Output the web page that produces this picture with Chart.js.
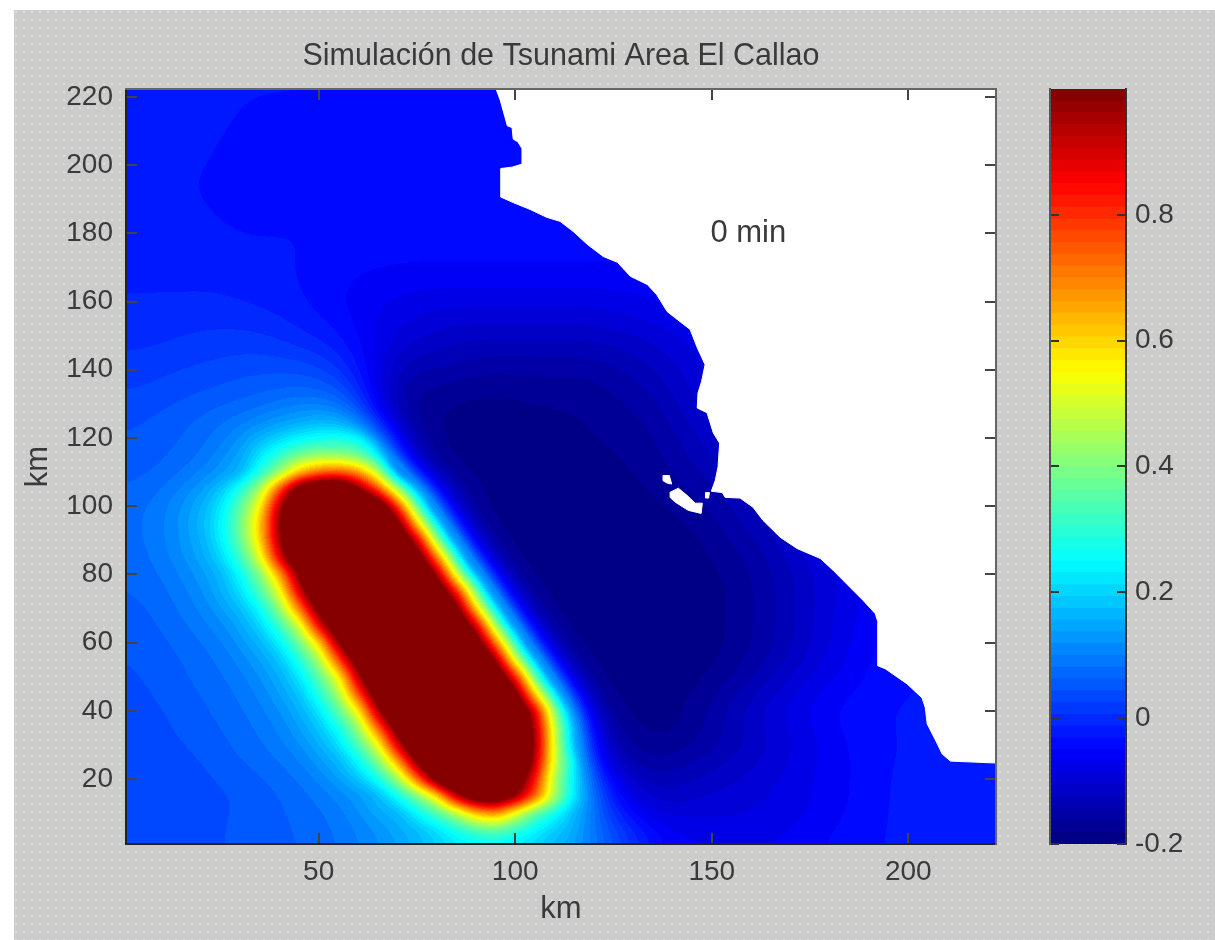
<!DOCTYPE html>
<html lang="es">
<head>
<meta charset="utf-8">
<title>Simulación de Tsunami Area El Callao</title>
<script src="https://cdn.jsdelivr.net/npm/chart.js@4"></script>
<style>
html,body{margin:0;padding:0;background:#fff;width:1215px;height:940px;overflow:hidden}
#bg{position:absolute;left:14px;top:10px;width:1201px;height:930px;background-color:#cccccc;
background-image:radial-gradient(circle at 2px 2px,#d8e2d4 0.7px,transparent 1px);background-size:8px 8px}
#mainWrap{position:absolute;left:0;top:0;width:1030px;height:940px}
#barWrap{position:absolute;left:1040px;top:0;width:175px;height:940px}
</style>
</head>
<body>
<div id="bg"></div>
<div id="mainWrap"><canvas id="main" width="1030" height="940"></canvas></div>
<div id="barWrap"><canvas id="bar" width="175" height="940"></canvas></div>
<script>
const titleText = 'Simulación de Tsunami Area El Callao';
const xAxisLabel = 'km';
const yAxisLabel = 'km';
const noteText = '0 min';
const notePos = [159.3, 180];
const xTickValues = [50, 100, 150, 200];
const yTickValues = [20, 40, 60, 80, 100, 120, 140, 160, 180, 200, 220];
const barTickValues = [-0.2, 0, 0.2, 0.4, 0.6, 0.8];
const axisRange = [1, 222.3];
const barRange = [-0.2, 1.0];

// sample positions of the height field (km)
const fieldX = [0,10,20,25,30,35,40,45,50,55,60,65,70,75,80,85,90,95,100,105,110,115,120,125,130,135,140,145,150,155,160,165,175,185,195,205,215,225];
const fieldY = [0,5,10,15,20,25,30,35,40,45,50,55,60,65,70,75,80,85,90,95,100,105,110,115,120,125,130,140,150,160,170,180,190,200,210,220,225];
// height in hundredths; one row per fieldY entry
const fieldRows = [
[3,3,4,4,5,5,6,6,7,8,9,11,13,16,19,21,22,22,21,19,16,13,9,5,1,-4,-6,-6,-6,-6,-6,-6,-5,-4,-3,-2,-2,-2],
[3,3,4,4,5,5,6,6,7,8,10,12,14,17,21,27,33,36,30,24,19,15,9,4,0,-4,-6,-7,-8,-8,-8,-8,-6,-4,-3,-2,-2,-2],
[3,3,4,4,5,5,6,7,8,9,12,14,16,24,33,45,62,68,52,35,26,16,7,-1,-6,-9,-10,-9,-9,-9,-9,-8,-7,-5,-3,-2,-2,-2],
[3,3,3,4,4,5,6,7,8,9,11,16,25,38,57,92,112,115,100,75,45,22,8,-4,-9,-12,-12,-11,-10,-10,-9,-9,-7,-5,-3,-2,-2,-2],
[3,3,4,5,5,6,7,8,10,13,18,26,42,72,106,130,130,130,113,84,45,23,3,-7,-12,-14,-14,-13,-12,-11,-10,-9,-7,-5,-3,-2,-2,-2],
[3,3,4,5,6,7,8,9,12,16,24,38,64,100,130,130,130,130,130,93,50,24,-6,-13,-16,-16,-15,-14,-13,-12,-11,-10,-7,-5,-3,-3,-2,-2],
[3,4,5,6,7,8,9,11,15,21,33,52,89,119,130,130,130,130,130,98,50,16,-8,-15,-17,-18,-18,-17,-15,-14,-12,-11,-8,-5,-3,-3,-2,-2],
[3,4,5,6,7,8,10,13,18,26,42,72,106,130,130,130,130,130,127,96,49,15,-10,-17,-18,-19,-19,-18,-16,-14,-12,-10,-7,-4,-3,-3,-2,-2],
[3,4,6,7,8,9,11,15,22,35,55,94,124,130,130,130,130,130,121,89,42,8,-14,-18,-19,-19,-19,-17,-15,-13,-11,-9,-6,-4,-3,-3,-2,-2],
[3,5,6,7,8,10,13,18,28,44,76,109,130,130,130,130,130,130,106,60,24,-8,-18,-19,-19,-19,-19,-19,-17,-15,-13,-11,-7,-5,-3,-3,-2,-2],
[4,5,7,8,9,11,15,22,35,54,93,123,130,130,130,130,130,117,83,37,3,-16,-18,-19,-19,-19,-19,-19,-18,-16,-15,-13,-9,-6,-4,-3,-3,-3],
[4,5,7,8,10,13,18,28,44,76,109,130,130,130,130,130,129,98,51,17,-11,-18,-19,-19,-19,-19,-19,-19,-19,-18,-16,-14,-10,-6,-4,-3,-3,-3],
[4,6,8,9,12,16,23,37,59,97,127,130,130,130,130,130,111,71,30,-4,-17,-19,-19,-19,-19,-19,-19,-19,-19,-18,-16,-15,-11,-7,-4,-3,-3,-3],
[5,6,9,10,14,20,31,49,86,116,130,130,130,130,130,122,91,44,10,-14,-18,-19,-19,-19,-19,-19,-19,-19,-19,-18,-17,-15,-11,-7,-5,-4,-3,-3],
[5,7,10,13,17,25,41,70,104,130,130,130,130,130,130,106,60,24,-8,-18,-19,-19,-19,-19,-19,-19,-19,-19,-19,-18,-16,-15,-11,-7,-5,-4,-3,-3],
[6,7,11,15,21,33,52,89,119,130,130,130,130,130,117,83,40,3,-16,-18,-19,-19,-19,-19,-19,-19,-19,-19,-19,-18,-17,-15,-11,-8,-5,-4,-3,-3],
[6,8,12,16,25,39,65,101,130,130,130,130,130,129,98,51,17,-11,-18,-19,-19,-19,-19,-19,-19,-19,-19,-19,-19,-18,-16,-15,-11,-8,-6,-4,-3,-3],
[6,9,14,20,31,51,88,118,130,130,130,130,130,111,71,30,-4,-17,-19,-19,-19,-19,-19,-19,-19,-19,-19,-19,-18,-17,-16,-14,-10,-7,-5,-4,-3,-3],
[7,9,15,23,36,59,96,127,130,130,130,130,122,91,44,10,-14,-18,-19,-19,-19,-19,-19,-19,-19,-19,-19,-19,-18,-16,-15,-13,-9,-6,-5,-4,-3,-3],
[7,9,16,24,37,61,98,128,130,130,130,130,106,60,24,-8,-18,-19,-19,-19,-19,-19,-19,-19,-19,-19,-19,-18,-17,-15,-14,-12,-8,-6,-5,-4,-3,-3],
[7,9,15,22,35,55,94,124,130,130,130,117,80,37,3,-16,-18,-19,-19,-19,-19,-19,-19,-19,-19,-19,-18,-17,-16,-14,-13,-11,-8,-6,-5,-4,-3,-3],
[6,8,13,18,28,44,76,109,122,125,102,78,46,16,-8,-16,-18,-19,-19,-19,-19,-19,-19,-19,-19,-18,-17,-16,-15,-13,-12,-11,-8,-6,-5,-4,-3,-3],
[5,6,9,11,16,28,42,62,72,75,68,48,12,-10,-17,-18,-19,-19,-19,-19,-19,-19,-19,-19,-18,-17,-16,-15,-14,-12,-11,-10,-8,-6,-5,-4,-3,-3],
[5,6,8,10,13,22,30,38,42,42,38,25,-4,-15,-18,-19,-19,-19,-19,-19,-19,-19,-19,-18,-18,-17,-16,-14,-12,-11,-10,-9,-7,-6,-5,-4,-3,-3],
[4,5,7,9,12,16,20,24,26,27,25,12,-8,-16,-18,-19,-19,-19,-19,-19,-19,-19,-18,-18,-17,-17,-15,-13,-11,-10,-9,-8,-7,-6,-5,-4,-3,-3],
[4,5,7,8,9,10,12,14,16,15,10,-3,-14,-17,-18,-19,-19,-19,-19,-19,-19,-18,-18,-17,-17,-16,-14,-12,-10,-9,-8,-7,-6,-5,-5,-4,-3,-3],
[3,4,5,6,6,7,8,9,9,8,4,-8,-16,-18,-18,-19,-19,-19,-19,-18,-18,-18,-18,-17,-16,-15,-13,-11,-9,-8,-7,-7,-6,-5,-5,-4,-3,-3],
[1,2,3,3,4,4,4,4,3,1,-3,-8,-13,-15,-14,-15,-16,-16,-16,-16,-16,-16,-16,-15,-14,-13,-11,-10,-8,-7,-6,-6,-5,-5,-4,-4,-3,-3],
[0,0,1,1,1,1,0,-1,-2,-3,-5,-7,-9,-10,-11,-12,-12,-12,-12,-12,-12,-12,-12,-11,-11,-10,-9,-8,-7,-6,-6,-5,-5,-4,-4,-3,-3,-3],
[-1,-1,-1,-1,-1,-2,-2,-3,-4,-5,-6,-7,-7,-8,-8,-8,-8,-8,-8,-8,-8,-8,-8,-8,-7,-7,-6,-6,-6,-5,-5,-5,-5,-4,-4,-3,-3,-3],
[-2,-2,-2,-2,-3,-3,-3,-3,-4,-4,-5,-5,-5,-5,-5,-5,-5,-5,-5,-5,-5,-5,-5,-5,-5,-5,-5,-5,-5,-5,-5,-5,-5,-4,-4,-3,-3,-3],
[-2,-2,-2,-3,-3,-3,-3,-3,-3,-3,-3,-3,-4,-4,-4,-4,-4,-4,-4,-4,-4,-4,-4,-4,-4,-4,-4,-4,-4,-4,-4,-4,-4,-4,-4,-3,-3,-3],
[-3,-3,-3,-4,-4,-4,-4,-4,-4,-4,-5,-5,-5,-5,-5,-5,-5,-5,-5,-5,-5,-5,-5,-5,-5,-5,-5,-5,-5,-5,-5,-5,-3,-3,-3,-3,-3,-3],
[-3,-3,-3,-3,-4,-4,-4,-4,-4,-4,-4,-4,-5,-5,-5,-5,-5,-5,-5,-5,-5,-5,-5,-5,-5,-5,-5,-5,-5,-5,-5,-5,-3,-3,-3,-3,-3,-3],
[-3,-3,-3,-3,-3,-4,-4,-4,-4,-4,-4,-4,-4,-4,-4,-4,-4,-4,-4,-4,-4,-4,-4,-4,-4,-4,-4,-4,-4,-4,-4,-4,-3,-3,-3,-3,-3,-3],
[-3,-3,-3,-3,-3,-3,-3,-3,-3,-4,-4,-4,-4,-4,-4,-4,-4,-4,-4,-4,-4,-4,-4,-4,-4,-4,-4,-4,-4,-4,-4,-4,-3,-3,-3,-3,-3,-3],
[-3,-3,-3,-3,-3,-3,-3,-3,-3,-4,-4,-4,-4,-4,-4,-4,-4,-4,-4,-4,-4,-4,-4,-4,-4,-4,-4,-4,-4,-4,-4,-4,-3,-3,-3,-3,-3,-3]
];

// coastline, [x km, y km], top to bottom
const coastline = [[94.9,223],[96.2,219],[97.4,214],[98,211.5],[99.2,211],[99.5,207.6],[100.7,206.8],[101.8,204.7],[101.8,200.3],[99.2,199.4],[96.4,199],[96.4,190.6],[99.5,189],[103.8,187],[108,184.7],[111.4,183.5],[114.7,180.6],[118.3,176.8],[122.4,173.2],[126,171.5],[129.3,167.4],[133.6,165],[136,162],[138.7,157],[144.5,151.8],[146.3,146.5],[148.3,141.5],[147.4,136.5],[146.5,133.2],[146.3,128.8],[148.8,127.4],[150.4,121.5],[152,118.5],[151.6,111.5],[150.9,107.6],[149.9,104.4],[152.7,104],[153.4,102.6],[157.2,102.4],[160.5,99.7],[163,95.9],[167.4,90.9],[171.7,87.6],[177.6,84.7],[180.9,81.2],[185.2,76.2],[188.5,72.4],[191.6,68.5],[192.3,65.9],[192.3,53.2],[194.1,52.4],[199.7,47.9],[203.5,43.8],[204.3,41],[204.8,36.2],[207.4,30.3],[208.6,27.4],[210.7,25.3],[223,24.7],[223,223],[94.9,223]];
const islandSanLorenzo = [[139.4,104.1],[141.5,105.3],[143.7,103.2],[145.8,100.9],[147.6,100.9],[147.3,97.9],[144,98.8],[140.7,101.2],[139.4,102.6],[139.4,104.1]];
const islandNorth = [[137.6,109],[139.2,109],[139.8,106.5],[138.6,106.8],[137.6,107.5],[137.6,109]];
const islandRock = [[148.4,104],[149.4,104],[149.2,102.4],[148.5,102.4],[148.4,104]];

// jet colormap, 64 levels, as in the colour bar
const LEVELS = 64;
const clamp01 = v => Math.max(0, Math.min(1, v));
const jetLevels = Array.from({length: LEVELS}, (_, i) => {
  const t = (i + 0.5) / LEVELS;
  return [clamp01(1.5 - Math.abs(4*t - 3)), clamp01(1.5 - Math.abs(4*t - 2)), clamp01(1.5 - Math.abs(4*t - 1))].map(c => Math.round(c * 255));
});
const levelOf = v => Math.max(0, Math.min(LEVELS - 1, Math.floor((v - barRange[0]) / (barRange[1] - barRange[0]) * LEVELS)));
const findCell = (arr, v) => { let i = 0; while (i < arr.length - 2 && arr[i + 1] <= v) i++; return i; };

const fontFamily = '"Liberation Sans", Arial, sans-serif';
const textColor = '#3a3a3a';

// box smoothing of the shaded field, in pixels
function smooth(src, w, h, rx, ry) {
  let a = src, b = new Float32Array(src.length);
  for (let pass = 0; pass < 3; pass++) {
    for (let y = 0; y < h; y++) {
      let s = 0;
      for (let x = -rx; x <= rx; x++) s += a[y*w + Math.max(0, Math.min(w-1, x))];
      for (let x = 0; x < w; x++) {
        b[y*w + x] = s / (2*rx + 1);
        s += a[y*w + Math.min(w-1, x+rx+1)] - a[y*w + Math.max(0, x-rx)];
      }
    }
    a = b; b = new Float32Array(src.length);
    for (let x = 0; x < w; x++) {
      let s = 0;
      for (let y = -ry; y <= ry; y++) s += a[Math.max(0, Math.min(h-1, y))*w + x];
      for (let y = 0; y < h; y++) {
        b[y*w + x] = s / (2*ry + 1);
        s += a[Math.min(h-1, y+ry+1)*w + x] - a[Math.max(0, y-ry)*w + x];
      }
    }
    a = b; b = new Float32Array(src.length);
  }
  return a;
}

// paints the field through the chart's own x and y scales (shaded between samples)
const fieldPlugin = {
  id: 'fieldPlugin',
  beforeDatasetsDraw(chart) {
    const {ctx, chartArea: a, scales: {x, y}} = chart;
    const w = Math.round(a.right - a.left), h = Math.round(a.bottom - a.top);
    if (!chart.$field) {
      const off = document.createElement('canvas');
      off.width = w; off.height = h;
      const oc = off.getContext('2d');
      const img = oc.createImageData(w, h);
      const vals = new Float32Array(w*h);
      for (let py = 0; py < h; py++) {
        const yv = y.getValueForPixel(a.top + py + 0.5);
        const j = findCell(fieldY, yv);
        const fy = clamp01((yv - fieldY[j]) / (fieldY[j + 1] - fieldY[j]));
        for (let px = 0; px < w; px++) {
          const xv = x.getValueForPixel(a.left + px + 0.5);
          const i = findCell(fieldX, xv);
          const fx = clamp01((xv - fieldX[i]) / (fieldX[i + 1] - fieldX[i]));
          const r0 = fieldRows[j], r1 = fieldRows[j + 1];
          vals[py*w + px] = ((r0[i]*(1-fx) + r0[i+1]*fx)*(1-fy) + (r1[i]*(1-fx) + r1[i+1]*fx)*fy) / 100;
        }
      }
      const soft = smooth(vals, w, h, 5, 4);
      const softer = smooth(vals, w, h, 16, 14);
      for (let o = 0; o < w*h; o++) {
        const t = clamp01((0.2 - Math.max(soft[o], softer[o])) / 0.1);
        const c = jetLevels[levelOf(soft[o]*(1-t) + softer[o]*t)];
        img.data[o*4] = c[0]; img.data[o*4+1] = c[1]; img.data[o*4+2] = c[2]; img.data[o*4+3] = 255;
      }
      oc.putImageData(img, 0, 0);
      chart.$field = off;
    }
    ctx.drawImage(chart.$field, a.left, a.top, w, h);
  }
};

const notePlugin = {
  id: 'notePlugin',
  afterDatasetsDraw(chart) {
    const {ctx, scales: {x, y}} = chart;
    ctx.save();
    ctx.font = '31px ' + fontFamily;
    ctx.fillStyle = textColor;
    ctx.textAlign = 'center';
    ctx.textBaseline = 'middle';
    ctx.fillText(noteText, x.getPixelForValue(notePos[0]), y.getPixelForValue(notePos[1]));
    ctx.restore();
  }
};

const toPts = arr => arr.map(p => ({x: p[0], y: p[1]}));
const landSet = (label, arr) => ({type: 'scatter', label, data: toPts(arr), showLine: true, fill: 'shape', tension: 0,
  backgroundColor: '#ffffff', borderColor: '#ffffff', borderWidth: 1, pointRadius: 0, pointHoverRadius: 0});
const fieldPoints = [];
fieldRows.forEach((row, j) => row.forEach((v, i) => fieldPoints.push({x: fieldX[i], y: fieldY[j], v: v / 100})));

const setTicks = vals => scale => { scale.ticks = vals.map(v => ({value: v})); };
const tickGrid = {drawOnChartArea: false, drawTicks: true, tickLength: -11, color: '#444', lineWidth: 2, z: 1};

new Chart(document.getElementById('main'), {
  type: 'scatter',
  data: {datasets: [
    {label: 'Altura', data: fieldPoints, pointRadius: 0, pointHoverRadius: 0, showLine: false},
    landSet('Costa', coastline),
    landSet('Isla San Lorenzo', islandSanLorenzo),
    landSet('Islote norte', islandNorth),
    landSet('Roca', islandRock)
  ]},
  plugins: [fieldPlugin, notePlugin],
  options: {
    responsive: false, animation: false, events: [],
    layout: {padding: 0},
    plugins: {
      legend: {display: false}, tooltip: {enabled: false},
      title: {display: true, text: titleText, fullSize: false, color: textColor,
        font: {family: fontFamily, size: 30.5, weight: 'normal'}, padding: {top: 38.7, bottom: 13.7}}
    },
    scales: {
      x: {type: 'linear', position: 'bottom', min: axisRange[0], max: axisRange[1],
        afterBuildTicks: setTicks(xTickValues), afterFit: s => { s.height = 96; },
        grid: tickGrid, border: {color: '#222', width: 2, z: 1},
        ticks: {color: textColor, font: {family: fontFamily, size: 28}, padding: 22, maxRotation: 0, autoSkip: false},
        title: {display: true, text: xAxisLabel, color: textColor, font: {family: fontFamily, size: 31}, padding: {top: 0, bottom: 12.4}}},
      y: {type: 'linear', position: 'left', min: axisRange[0], max: axisRange[1],
        afterBuildTicks: setTicks(yTickValues), afterFit: s => { s.width = 126; },
        grid: tickGrid, border: {color: '#222', width: 2, z: 1},
        ticks: {color: textColor, font: {family: fontFamily, size: 28}, padding: 24, autoSkip: false},
        title: {display: true, text: yAxisLabel, color: textColor, font: {family: fontFamily, size: 31}, padding: {top: 19.4, bottom: 0}}},
      x2: {type: 'linear', position: 'top', min: axisRange[0], max: axisRange[1],
        afterBuildTicks: setTicks(xTickValues), afterFit: s => { s.height = 0; },
        grid: tickGrid, border: {color: '#666', width: 2, z: 1}, ticks: {display: false}},
      y2: {type: 'linear', position: 'right', min: axisRange[0], max: axisRange[1],
        afterBuildTicks: setTicks(yTickValues), afterFit: s => { s.width = 34; },
        grid: tickGrid, border: {color: '#666', width: 2, z: 1}, ticks: {display: false}}
    }
  }
});

// colour bar: one floating bar per colormap level
const barEdges = Array.from({length: LEVELS + 1}, (_, i) => barRange[0] + (barRange[1] - barRange[0]) * i / LEVELS);
const barCategories = ['colorbar'];
const barGrid = {drawOnChartArea: false, drawTicks: true, tickLength: -9, color: '#333', lineWidth: 2, z: 1};
new Chart(document.getElementById('bar'), {
  type: 'bar',
  data: {labels: barCategories, datasets: jetLevels.map((c, i) => ({
    label: 'L' + i, data: [[barEdges[i], barEdges[i + 1]]], yAxisID: 'yR', grouped: false,
    barPercentage: 1, categoryPercentage: 1, backgroundColor: 'rgb(' + c.join(',') + ')', borderWidth: 0
  }))},
  options: {
    responsive: false, animation: false, events: [],
    layout: {padding: {top: 89, bottom: 96}},
    plugins: {legend: {display: false}, tooltip: {enabled: false}, title: {display: false}},
    scales: {
      x: {display: false},
      yR: {type: 'linear', position: 'right', min: barRange[0], max: barRange[1],
        afterBuildTicks: setTicks(barTickValues), afterFit: s => { s.width = 89; },
        grid: barGrid, border: {color: '#333', width: 2, z: 1},
        ticks: {color: textColor, font: {family: fontFamily, size: 28}, padding: 18, autoSkip: false,
          callback: v => String(Math.round(v * 10) / 10)}},
      yL: {type: 'linear', position: 'left', min: barRange[0], max: barRange[1],
        afterBuildTicks: setTicks(barTickValues), afterFit: s => { s.width = 10; },
        grid: barGrid, border: {color: '#555', width: 2, z: 1}, ticks: {display: false}}
    }
  }
});
</script>
</body>
</html>
